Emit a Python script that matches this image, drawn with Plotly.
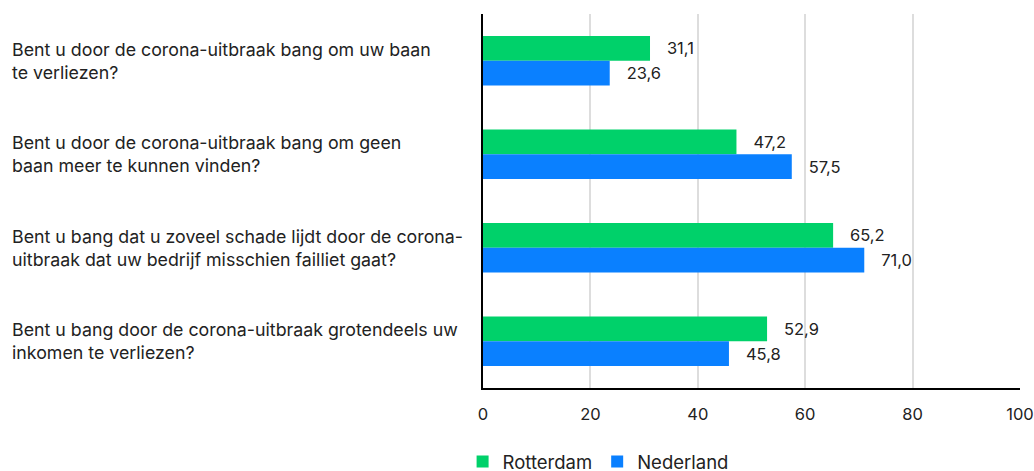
import plotly.graph_objects as go

vragen = [
    "Bent u door de corona-uitbraak bang om uw baan<br>te verliezen?",
    "Bent u door de corona-uitbraak bang om geen<br>baan meer te kunnen vinden?",
    "Bent u bang dat u zoveel schade lijdt door de corona-<br>uitbraak dat uw bedrijf misschien failliet gaat?",
    "Bent u bang door de corona-uitbraak grotendeels uw<br>inkomen te verliezen?",
]
rotterdam = [31.1, 47.2, 65.2, 52.9]
nederland = [23.6, 57.5, 71.0, 45.8]
x_ticks = [0, 20, 40, 60, 80, 100]

font = "Inter, Lato, sans-serif"
keys = ["q1", "q2", "q3", "q4"]

W, H = 1034, 471
L, R, T, B = 483, 14, 14, 83
pw = W - L - R

fig = go.Figure()
fig.add_trace(go.Bar(
    y=keys, x=rotterdam, name="Rotterdam", orientation="h",
    marker=dict(color="#00D16A", line=dict(width=0)),
    texttemplate="   %{x:.1f}", textposition="outside",
    textfont=dict(size=16.5, color="#222"), cliponaxis=False,
))
fig.add_trace(go.Bar(
    y=keys, x=nederland, name="Nederland", orientation="h",
    marker=dict(color="#0A80FF", line=dict(width=0)),
    texttemplate="   %{x:.1f}", textposition="outside",
    textfont=dict(size=16.5, color="#222"), cliponaxis=False,
))

# vraagteksten links uitgelijnd
for k, v in zip(keys, vragen):
    fig.add_annotation(
        x=(10 - L) / pw, xref="paper", y=k, yref="y", text=v,
        showarrow=False, xanchor="left", align="left",
        font=dict(size=17.8, color="#222", family=font),
    )

fig.update_layout(
    width=W, height=H,
    margin=dict(l=L, r=R, t=T, b=B, autoexpand=False),
    barmode="group", bargap=0.47, bargroupgap=0,
    separators=", ",
    plot_bgcolor="white", paper_bgcolor="white",
    font=dict(family=font, size=16, color="#222"),
    uniformtext=dict(minsize=16, mode="show"),
    legend=dict(orientation="h", x=-0.038, xanchor="left", yref="paper",
                y=-0.147, yanchor="top", font=dict(size=18.5), itemwidth=30,
                traceorder="normal", tracegroupgap=0),
    showlegend=True,
)
fig.update_xaxes(
    range=[0, 100], tickvals=x_ticks, showgrid=True, gridcolor="#DDDDDD",
    gridwidth=1.5, showline=True, linecolor="black", linewidth=1.5,
    ticks="outside", ticklen=10, tickcolor="rgba(0,0,0,0)", zeroline=False,
    tickfont=dict(size=16.5), automargin=False,
)
fig.update_yaxes(
    autorange="reversed", showticklabels=False, showline=True,
    linecolor="black", linewidth=1.5, showgrid=False, automargin=False,
)

# standaard body-marge van de browser weghalen
fig.write_html("out.html", config={"displayModeBar": False},
               post_script="document.body.style.margin='0';")
